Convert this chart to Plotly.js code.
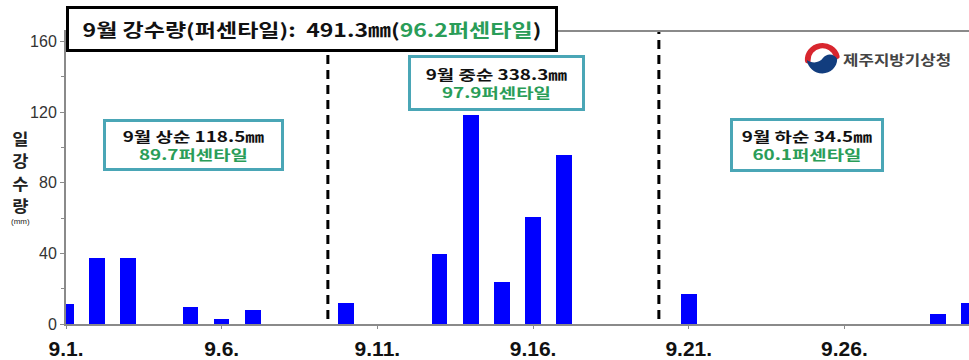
<!DOCTYPE html>
<html><head><meta charset="utf-8">
<script src="https://cdn.plot.ly/plotly-3.0.1.min.js"></script>
<style>html,body{margin:0;padding:0;background:#fff}#chart{width:969px;height:360px}
.annotation-text{transform-box:fill-box;transform-origin:center}</style>
</head><body><div id="chart"></div>
<script>
// ---- data ----
const days = [1,2,3,4,5,6,7,8,9,10,11,12,13,14,15,16,17,18,19,20,21,22,23,24,25,26,27,28,29,30];
const rain = [11.6,37.5,37.5,0,9.4,2.8,8.0,0,0,11.7, 0,0,39.5,118.2,23.8,60.8,96.0,0,0,0, 17.2,0,0,0,0,0,0,0,5.5,11.8];
const tickDays = [1,6,11,16,21,26];
const tickLabels = ['9.1.','9.6.','9.11.','9.16.','9.21.','9.26.'];
const yTicks = [0,40,80,120,160];
const dividers = [9.41, 20.04];
const titleMain = '9월 강수량(퍼센타일):  491.3㎜(';
const titlePct = '96.2퍼센타일';
const periodNames = ['9월 상순','9월 중순','9월 하순'];
const periodTotals = ['118.5','338.3','34.5'];
const periodPct = ['89.7','97.9','60.1'];
const yTitleChars = ['일','강','수','량'];
const agency = '제주지방기상청';

// ---- geometry helpers (pixel -> paper) ----
const L=66, R=969, T=32, B=324, W=R-L, H=B-T;
const px = p => (p-L)/W, py = p => (B-p)/H;
const KR = '"Noto Sans CJK KR", "Noto Sans", sans-serif';
const GREEN = '#2a9d58', TEAL = '#4aa6b6';

const trace = {
  type:'bar', x:days, y:rain, width:0.5,
  marker:{color:'#0000ff', line:{width:0}},
  hoverinfo:'x+y', cliponaxis:true
};

const shapes = dividers.map(d => ({
  type:'line', xref:'x', yref:'paper', x0:d, x1:d, y0:py(319), y1:1,
  line:{color:'#000', width:3, dash:'9px,6px'}, layer:'above'
}));

const annotations = [];
const stretch = [];
// title box
annotations.push({
  xref:'paper', yref:'paper', x:px(66), y:py(6), xanchor:'left', yanchor:'top',
  width:486, height:40, borderpad:0, borderwidth:3, bordercolor:'#000', bgcolor:'#fff',
  showarrow:false, align:'center',
  text:'<b>'+titleMain+'<span style="color:'+GREEN+'">'+titlePct+'</span>)</b>',
  font:{family:KR, size:18, color:'#111'}
});
stretch.push(1.28);
// period boxes
const boxes = [
  {cx:193.5, cy:145, w:175, h:46},
  {cx:496.5, cy:83, w:171, h:50},
  {cx:807, cy:145, w:148, h:48}
];
boxes.forEach((b,i) => {
  annotations.push({
    xref:'paper', yref:'paper', x:px(b.cx), y:py(b.cy), xanchor:'center', yanchor:'middle',
    width:b.w, height:b.h, borderpad:0, borderwidth:3, bordercolor:TEAL, bgcolor:'#fff',
    showarrow:false, align:'center',
    text:'<b>'+periodNames[i]+' '+periodTotals[i]+'㎜</b><br><b><span style="color:'+GREEN+'">'+periodPct[i]+'퍼센타일</span></b>',
    font:{family:KR, size:14, color:'#111'}
  });
  stretch.push(1.35);
});
// y title stacked
const yCharY = [138,160,183,205];
yTitleChars.forEach((c,i) => {
  annotations.push({xref:'paper', yref:'paper', x:px(20), y:py(yCharY[i]), xanchor:'center', yanchor:'middle',
    showarrow:false, text:'<b>'+c+'</b>', font:{family:KR, size:16, color:'#222'}});
  stretch.push(1.1);
});
annotations.push({xref:'paper', yref:'paper', x:px(20), y:py(222), xanchor:'center', yanchor:'middle',
  showarrow:false, text:'(mm)', font:{family:'Liberation Sans, Arial, sans-serif', size:8, color:'#222'}});
stretch.push(1);
// agency name
annotations.push({xref:'paper', yref:'paper', x:px(850), y:py(59), xanchor:'left', yanchor:'middle',
  showarrow:false, text:'<b>'+agency+'</b>', font:{family:KR, size:14, color:'#444'}});
stretch.push(1.2);

// logo as inline svg
const logoSvg = '<svg xmlns="http://www.w3.org/2000/svg" viewBox="0 0 40 40">'
 + '<path d="M5,22 A15.5,15.5 0 0 1 35.5,17" fill="none" stroke="#d8262e" stroke-width="6" stroke-linecap="round"/>'
 + '<path d="M4,21 C5,29 12,36 20.5,36 C29,36 36,29 36,20 C33,14 25,13 21,19 C17,25 9,25 4,21 Z" fill="#123d7e"/>'
 + '</svg>';
const images = [{
  source:'data:image/svg+xml;charset=utf-8,'+encodeURIComponent(logoSvg),
  xref:'paper', yref:'paper', x:px(803), y:py(41), sizex:38/W, sizey:36/H,
  xanchor:'left', yanchor:'top', sizing:'stretch', layer:'above'
}];

const layout = {
  width:969, height:360,
  margin:{l:L, r:969-R, t:T, b:360-B, pad:0},
  paper_bgcolor:'#fff', plot_bgcolor:'#fff',
  showlegend:false, bargap:0,
  xaxis:{
    range:[1,30], tickvals:tickDays, ticktext:tickLabels,
    showgrid:false, zeroline:false, showline:true, mirror:true,
    linecolor:'#8a8a8a', linewidth:2, ticks:'outside', ticklen:3, tickcolor:'#8a8a8a',
    tickfont:{family:'Liberation Sans, Arial, sans-serif', size:21, color:'#111', weight:'bold'},
    ticklabelstandoff:2
  },
  yaxis:{
    range:[0, (B-T)/1.765], tickvals:yTicks,
    showgrid:false, zeroline:false, showline:true, mirror:true,
    linecolor:'#8a8a8a', linewidth:2, ticks:'outside', ticklen:4, tickcolor:'#8a8a8a',
    minor:{dtick:20, tick0:0, ticks:'outside', ticklen:3, tickcolor:'#8a8a8a'},
    tickfont:{family:'Liberation Sans, Arial, sans-serif', size:16, color:'#333'}
  },
  shapes, annotations, images
};
Plotly.newPlot('chart', [trace], layout, {displayModeBar:false, staticPlot:true}).then(gd => {
  // the reference's lettering is horizontally wide; widen each label about its centre
  gd.querySelectorAll('g.annotation').forEach(g => {
    const i = +g.getAttribute('data-index');
    const t = g.querySelector('.annotation-text');
    if (t && stretch[i] && stretch[i] !== 1) t.style.transform = 'scaleX(' + stretch[i] + ')';
  });
});
</script></body></html>
